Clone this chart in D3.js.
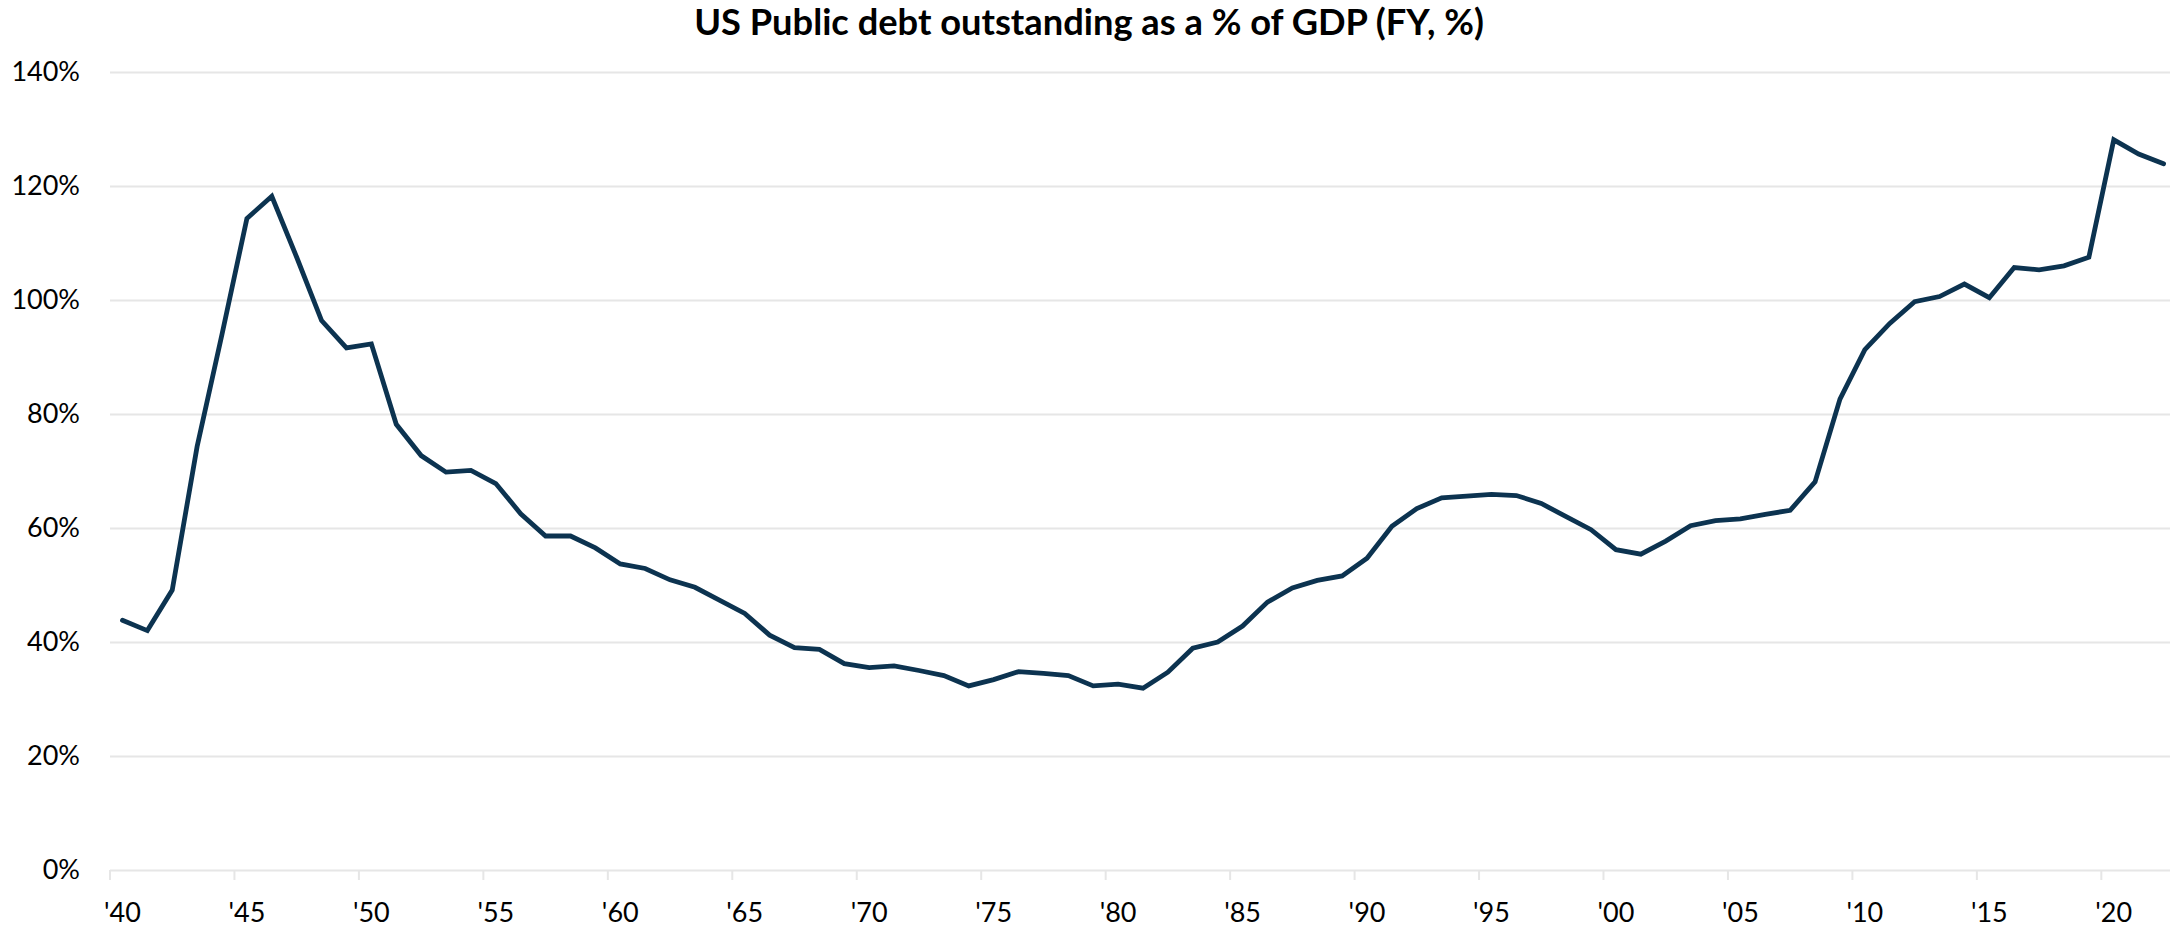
<!DOCTYPE html>
<html>
<head>
<meta charset="utf-8">
<script src="https://cdn.jsdelivr.net/npm/d3@7"></script>
<style>
  html, body { margin: 0; padding: 0; background: #ffffff; }
  svg { display: block; }
  text { font-family: Lato, "Open Sans", sans-serif; fill: #000; }
</style>
</head>
<body>
<svg id="chart" width="2177" height="938"></svg>
<script>
// Fiscal years shown on the category axis
const years = d3.range(1940, 2023);

// Public debt outstanding, % of GDP, one value per fiscal year 1940–2022
const debtPct = [
  43.8, 42.0, 49.1, 74.3, 94.0, 114.3, 118.2, 107.5, 96.4, 91.6,   // 1940s
  92.3, 78.2, 72.7, 69.8, 70.1, 67.8, 62.5, 58.6, 58.6, 56.5,      // 1950s
  53.7, 52.9, 50.9, 49.6, 47.3, 45.0, 41.2, 39.0, 38.7, 36.2,      // 1960s
  35.5, 35.8, 35.0, 34.1, 32.3, 33.4, 34.8, 34.5, 34.1, 32.3,      // 1970s
  32.6, 31.9, 34.7, 38.9, 40.0, 42.8, 47.0, 49.5, 50.8, 51.6,      // 1980s
  54.7, 60.3, 63.4, 65.3, 65.6, 65.9, 65.7, 64.3, 62.0, 59.7,      // 1990s
  56.2, 55.4, 57.7, 60.4, 61.3, 61.6, 62.4, 63.1, 68.1, 82.6,      // 2000s
  91.3, 95.9, 99.7, 100.6, 102.8, 100.4, 105.7, 105.3, 106.0, 107.5, // 2010s
  128.1, 125.6, 123.9                                              // 2020s
];

const yTicks = [0, 20, 40, 60, 80, 100, 120, 140];
const xTickYears = [1940, 1945, 1950, 1955, 1960, 1965, 1970, 1975, 1980,
                    1985, 1990, 1995, 2000, 2005, 2010, 2015, 2020];
const titleText = "US Public debt outstanding as a % of GDP (FY, %)";

const W = 2177, H = 938;
const plot = { left: 110, right: 2176, top: 72, bottom: 870 };

const svg = d3.select("#chart");

const x = d3.scaleBand()
  .domain(years)
  .range([plot.left, plot.right])
  .padding(0);

const y = d3.scaleLinear()
  .domain([0, 140])
  .range([plot.bottom, plot.top]);

const gridColor = "#e6e6e6";

// Horizontal gridlines with percentage labels
const yAxis = svg.append("g")
  .attr("transform", `translate(${plot.left},0)`)
  .call(d3.axisLeft(y)
    .tickValues(yTicks)
    .tickFormat(d => d + "%")
    .tickSize(-(plot.right - plot.left - 6))
    .tickPadding(30));
yAxis.select(".domain").remove();
yAxis.selectAll(".tick line")
  .attr("stroke", gridColor)
  .attr("stroke-width", 2);
yAxis.selectAll(".tick text")
  .style("font-size", "27px")
  .attr("fill", "#000");

// Category axis: labels sit at the centre of each year's slot
const xAxis = svg.append("g")
  .attr("transform", `translate(0,${plot.bottom})`)
  .call(d3.axisBottom(x)
    .tickValues(xTickYears)
    .tickFormat(d => "'" + String(d).slice(2))
    .tickSize(0)
    .tickPadding(33));
xAxis.select(".domain").remove();
xAxis.selectAll(".tick text")
  .style("font-size", "27px")
  .attr("fill", "#000");

// Tick marks fall on the boundaries between year slots
svg.append("g")
  .selectAll("line")
  .data(xTickYears)
  .join("line")
  .attr("x1", d => x(d))
  .attr("x2", d => x(d))
  .attr("y1", plot.bottom)
  .attr("y2", plot.bottom + 10)
  .attr("stroke", gridColor)
  .attr("stroke-width", 2);

// Debt ratio line
const line = d3.line()
  .x((d, i) => x(years[i]) + x.bandwidth() / 2)
  .y(d => y(d));

svg.append("path")
  .datum(debtPct)
  .attr("d", line)
  .attr("fill", "none")
  .attr("stroke", "#0c3350")
  .attr("stroke-width", 4.8)
  .attr("stroke-linejoin", "miter")
  .attr("stroke-linecap", "round");

// Title, sized to its measured width
const title = svg.append("text")
  .attr("x", 1089)
  .attr("y", 35)
  .attr("text-anchor", "middle")
  .style("font-weight", "700")
  .style("font-size", "32px")
  .text(titleText);
const tw = title.node().getComputedTextLength();
title.style("font-size", (32 * 790 / tw).toFixed(2) + "px");
</script>
</body>
</html>
